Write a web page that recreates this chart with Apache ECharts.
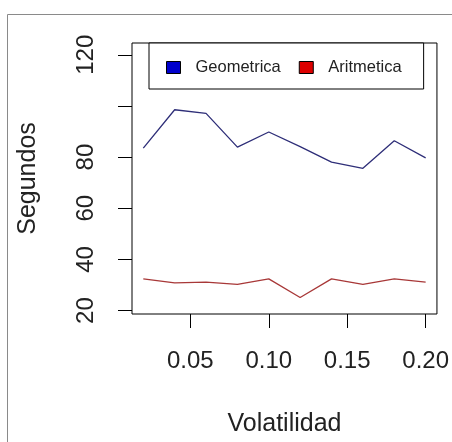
<!DOCTYPE html>
<html>
<head>
<meta charset="utf-8">
<script src="https://cdn.jsdelivr.net/npm/echarts@6/dist/echarts.min.js"></script>
<style>
html,body{margin:0;padding:0;background:#fff;}
#chart{width:452px;height:442px;}
</style>
</head>
<body>
<div id="chart"></div>
<script>
// Data
const volatilidad = [0.02, 0.04, 0.06, 0.08, 0.10, 0.12, 0.14, 0.16, 0.18, 0.20];
const geometrica = [83.5, 98.5, 97.1, 83.9, 89.8, 84.1, 78.0, 75.6, 86.4, 79.7];
const aritmetica = [32.4, 30.8, 31.1, 30.2, 32.4, 25.1, 32.4, 30.2, 32.4, 31.1];
const xTicks = [0.05, 0.10, 0.15, 0.20];
const yTicks = [20, 40, 60, 80, 100, 120];
const yTickLabels = [20, 40, 60, 80, 120];
const seriesNames = ['Geometrica', 'Aritmetica'];

const font = '"Liberation Sans", Arial, sans-serif';
const chart = echarts.init(document.getElementById('chart'), null, {renderer: 'canvas'});
const pair = (xs, ys) => xs.map((x, i) => [x, ys[i]]);

chart.setOption({
  animation: false,
  backgroundColor: '#fff',
  graphic: [{
    type: 'rect', silent: true,
    shape: {x: 7.5, y: 14.5, width: 470, height: 460},
    style: {fill: 'none', stroke: '#8a8a8a', lineWidth: 1}
  }],
  grid: {left: 132, top: 43, width: 310, height: 274, show: true, borderColor: '#000', borderWidth: 1, backgroundColor: 'transparent'},
  legend: {
    left: 149, top: 43,
    data: seriesNames,
    icon: 'rect',
    itemWidth: 14, itemHeight: 12,
    itemGap: 18,
    padding: [16, 22, 13, 17],
    borderColor: '#000', borderWidth: 1,
    backgroundColor: '#fff',
    itemStyle: {borderColor: '#000', borderWidth: 1},
    textStyle: {fontFamily: font, fontSize: 16.5, color: '#222', padding: [0, 0, 0, 10]}
  },
  xAxis: {
    type: 'value', min: 0.0128, max: 0.2072,
    name: 'Volatilidad', nameLocation: 'middle', nameGap: 98,
    nameTextStyle: {fontFamily: font, fontSize: 25, color: '#222'},
    axisLine: {show: false},
    splitLine: {show: false},
    axisTick: {show: true, length: 14, lineStyle: {color: '#000', width: 1}, customValues: xTicks},
    axisLabel: {customValues: xTicks, margin: 35, fontFamily: font, fontSize: 24, color: '#222',
      formatter: v => v.toFixed(2)}
  },
  yAxis: {
    type: 'value', min: 18.65, max: 124.6,
    name: 'Segundos', nameLocation: 'middle', nameGap: 91,
    nameTextStyle: {fontFamily: font, fontSize: 25, color: '#222'},
    axisLine: {show: false},
    splitLine: {show: false},
    axisTick: {show: true, length: 14, lineStyle: {color: '#000', width: 1}, customValues: yTicks},
    axisLabel: {customValues: yTickLabels, rotate: 90, margin: 34, fontFamily: font, fontSize: 24, color: '#222'}
  },
  series: [
    {name: seriesNames[0], type: 'line', data: pair(volatilidad, geometrica), symbol: 'none',
      lineStyle: {color: '#2e2e78', width: 1.3}, itemStyle: {color: '#0000cc'}},
    {name: seriesNames[1], type: 'line', data: pair(volatilidad, aritmetica), symbol: 'none',
      lineStyle: {color: '#a83838', width: 1.3}, itemStyle: {color: '#dd0000'}}
  ]
});
</script>
</body>
</html>
